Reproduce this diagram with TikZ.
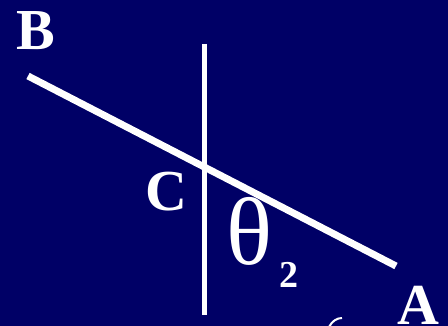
\documentclass[tikz,border=0pt]{standalone}
\usepackage{fontspec}
\setmainfont{Liberation Serif}
\usepackage{tikz}
\usetikzlibrary{positioning}
\definecolor{navy}{HTML}{000066}

\begin{document}
\begin{tikzpicture}[x=1pt,y=-1pt,
  lbl/.style={text=white,inner sep=0pt,anchor=base,font=\fontsize{58}{58}\selectfont\bfseries}]
  \fill[navy] (0,0) rectangle (448,326);
  \useasboundingbox (0,0) rectangle (448,326);
  % the rod and the normal
  \coordinate (b) at (28,76);
  \coordinate (a) at (396,266);
  \coordinate (top) at (204.5,44);
  \coordinate (bot) at (204.5,315);
  \draw[white,line width=7pt] (b) -- (a);
  \draw[white,line width=5pt] (top) -- (bot);
  % labels
  \node[lbl] (labB) at (36,50) {B};
  \node[lbl] (labC) at (166,211) {C};
  \node[lbl] (labA) at (418,325) {A};
  \node[lbl,font=\fontsize{96}{96}\selectfont] (theta) at (249.5,265) {θ};
  \node[lbl,font=\fontsize{38}{38}\selectfont\bfseries] (sub) at (289,288) {2};
  % cut-off glyph at the lower edge
  \draw[white,line width=2pt] (329,327) .. controls (332,321) and (337,318) .. (342,318);
\end{tikzpicture}
\end{document}
